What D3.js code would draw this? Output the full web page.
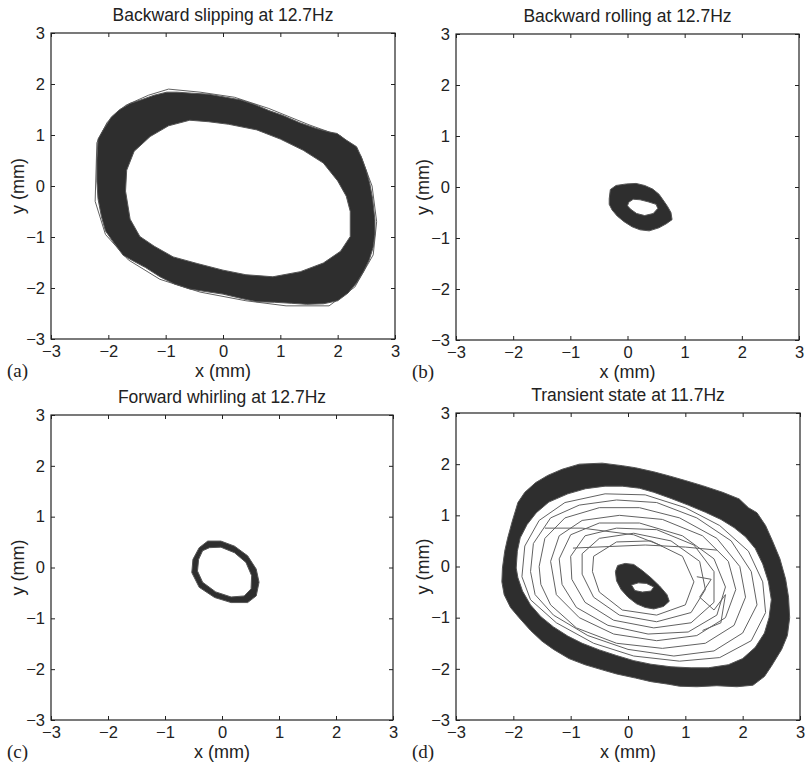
<!DOCTYPE html>
<html><head><meta charset="utf-8">
<script src="https://cdn.jsdelivr.net/npm/d3@7"></script>
<style>body{margin:0;background:#fff}svg{display:block}</style>
</head><body>
<script>
// ---------- data ----------
const titles = ["Backward slipping at 12.7Hz","Backward rolling at 12.7Hz","Forward whirling at 12.7Hz","Transient state at 11.7Hz"];
const letters = ["(a)","(b)","(c)","(d)"];
const tickValues = [-3,-2,-1,0,1,2,3];
const xLabel = "x (mm)";
const yLabel = "y (mm)";

// (a) backward slipping: outer and inner edge of orbit band
const aOuter = [[-2.18,0.92],[-2.09,1.10],[-1.95,1.35],[-1.80,1.50],[-1.62,1.62],[-1.40,1.70],[-1.20,1.78],[-0.98,1.84],[-0.80,1.84],[-0.55,1.82],[-0.25,1.80],[0.05,1.74],[0.30,1.69],[0.55,1.60],[0.80,1.48],[1.05,1.38],[1.34,1.24],[1.62,1.13],[1.85,1.06],[1.99,1.03],[2.15,0.90],[2.33,0.77],[2.42,0.55],[2.50,0.30],[2.56,0.05],[2.61,-0.25],[2.65,-0.67],[2.65,-0.95],[2.62,-1.20],[2.55,-1.45],[2.45,-1.68],[2.33,-1.90],[2.18,-2.10],[2.00,-2.25],[1.75,-2.31],[1.46,-2.32],[1.20,-2.30],[0.90,-2.28],[0.59,-2.27],[0.30,-2.20],[0.00,-2.12],[-0.30,-2.07],[-0.58,-2.02],[-0.85,-1.92],[-1.10,-1.78],[-1.35,-1.60],[-1.55,-1.48],[-1.74,-1.36],[-1.90,-1.12],[-2.05,-0.88],[-2.12,-0.60],[-2.18,-0.25],[-2.20,0.10],[-2.20,0.50]];
const aInner = [[-1.70,-0.10],[-1.68,0.31],[-1.55,0.68],[-1.27,0.97],[-0.95,1.18],[-0.58,1.29],[-0.25,1.26],[0.10,1.21],[0.59,1.10],[1.00,0.92],[1.40,0.70],[1.75,0.45],[2.00,0.10],[2.15,-0.20],[2.22,-0.50],[2.22,-0.99],[2.05,-1.28],[1.75,-1.51],[1.35,-1.68],[0.87,-1.78],[0.40,-1.74],[0.00,-1.65],[-0.45,-1.52],[-0.87,-1.39],[-1.20,-1.18],[-1.45,-0.99],[-1.62,-0.65]];
const aEdges = [
  [[-2.20,0.85],[-2.02,1.25],[-1.70,1.58],[-1.30,1.78],[-0.95,1.90],[-0.40,1.84],[0.20,1.74],[0.80,1.52],[1.50,1.20],[2.05,0.98],[2.40,0.60],[2.60,0.00],[2.68,-0.70],[2.62,-1.35],[2.30,-1.98],[1.85,-2.35],[1.10,-2.35],[0.40,-2.25],[-0.40,-2.08],[-1.10,-1.83],[-1.65,-1.45],[-2.05,-0.95],[-2.23,-0.30],[-2.20,0.85]]
];

// (b) backward rolling
const bOuter = [[-0.32,-0.23],[-0.30,-0.05],[-0.20,0.03],[-0.02,0.06],[0.15,0.07],[0.30,0.03],[0.44,-0.04],[0.55,-0.14],[0.62,-0.25],[0.70,-0.38],[0.76,-0.50],[0.78,-0.64],[0.68,-0.72],[0.55,-0.80],[0.38,-0.86],[0.22,-0.84],[0.08,-0.78],[-0.06,-0.68],[-0.18,-0.57],[-0.27,-0.45],[-0.32,-0.34]];
const bInner = [[0.02,-0.30],[0.10,-0.24],[0.22,-0.25],[0.36,-0.29],[0.50,-0.34],[0.53,-0.42],[0.45,-0.52],[0.30,-0.56],[0.16,-0.52],[0.06,-0.44],[0.00,-0.37]];

// (c) forward whirling
const cOuter = [[-0.25,0.52],[-0.02,0.52],[0.22,0.42],[0.45,0.23],[0.60,-0.03],[0.65,-0.29],[0.60,-0.56],[0.45,-0.69],[0.16,-0.69],[-0.13,-0.59],[-0.40,-0.39],[-0.53,-0.10],[-0.51,0.16],[-0.40,0.39]];
const cInner = [[-0.22,0.39],[-0.02,0.40],[0.22,0.29],[0.42,0.10],[0.52,-0.16],[0.51,-0.42],[0.39,-0.56],[0.16,-0.58],[-0.11,-0.48],[-0.34,-0.29],[-0.43,-0.07],[-0.41,0.16],[-0.34,0.33]];

// (d) transient state
const dOuter = [[-2.19,-0.03],[-2.15,0.30],[-2.10,0.55],[-2.02,0.88],[-1.92,1.25],[-1.80,1.45],[-1.61,1.64],[-1.40,1.78],[-1.15,1.90],[-0.85,2.00],[-0.45,2.02],[-0.10,1.97],[0.13,1.93],[0.45,1.85],[0.72,1.77],[1.00,1.68],[1.30,1.58],[1.65,1.45],[1.94,1.32],[2.10,1.15],[2.25,1.05],[2.40,0.80],[2.52,0.50],[2.65,0.15],[2.75,-0.25],[2.80,-0.60],[2.82,-1.00],[2.78,-1.35],[2.68,-1.62],[2.50,-1.95],[2.38,-2.15],[2.18,-2.32],[1.90,-2.35],[1.55,-2.33],[1.20,-2.35],[0.90,-2.34],[0.70,-2.30],[0.40,-2.25],[0.13,-2.18],[-0.20,-2.10],[-0.45,-2.02],[-0.75,-1.92],[-1.03,-1.80],[-1.30,-1.62],[-1.50,-1.46],[-1.70,-1.25],[-1.90,-1.00],[-2.05,-0.80],[-2.16,-0.55],[-2.20,-0.30]];
const dInner = [[-1.95,-0.03],[-1.93,0.30],[-1.88,0.56],[-1.76,0.82],[-1.60,1.05],[-1.38,1.26],[-1.05,1.42],[-0.74,1.52],[-0.40,1.57],[-0.10,1.57],[0.20,1.53],[0.45,1.45],[0.75,1.33],[1.05,1.20],[1.35,1.06],[1.62,0.92],[1.85,0.76],[2.05,0.58],[2.22,0.35],[2.35,0.05],[2.45,-0.30],[2.50,-0.65],[2.46,-1.00],[2.38,-1.30],[2.22,-1.58],[2.00,-1.80],[1.75,-1.92],[1.40,-1.98],[1.10,-1.98],[0.75,-1.96],[0.40,-1.91],[0.10,-1.84],[-0.20,-1.74],[-0.50,-1.63],[-0.80,-1.50],[-1.05,-1.36],[-1.30,-1.18],[-1.52,-0.98],[-1.70,-0.75],[-1.84,-0.48],[-1.92,-0.22]];
const dBlobOuter = [[-0.22,-0.10],[-0.18,0.02],[-0.05,0.06],[0.10,0.04],[0.25,-0.08],[0.40,-0.22],[0.55,-0.38],[0.68,-0.55],[0.72,-0.68],[0.62,-0.78],[0.45,-0.83],[0.30,-0.80],[0.15,-0.73],[0.00,-0.60],[-0.12,-0.45],[-0.20,-0.28]];
const dBlobInner = [[0.06,-0.36],[0.18,-0.32],[0.32,-0.33],[0.45,-0.40],[0.40,-0.48],[0.25,-0.50],[0.12,-0.47]];
const dLoops = [
  [[-2.0,0.1],[-1.9,0.75],[-1.5,1.25],[-0.9,1.6],[0.0,1.72],[0.9,1.55],[1.7,1.15],[2.3,0.5],[2.6,-0.3],[2.6,-1.1],[2.3,-1.75],[1.6,-2.05],[0.7,-2.05],[-0.2,-1.9],[-1.0,-1.6],[-1.6,-1.1],[-1.95,-0.5],[-2.0,0.1]],
  [[-1.85,-0.2],[-1.8,0.4],[-1.55,0.9],[-1.1,1.25],[-0.4,1.42],[0.3,1.4],[1.0,1.15],[1.6,0.8],[2.1,0.3],[2.35,-0.3],[2.4,-0.9],[2.15,-1.45],[1.6,-1.78],[0.9,-1.85],[0.1,-1.75],[-0.6,-1.5],[-1.25,-1.1],[-1.7,-0.65],[-1.85,-0.2]],
  [[-1.7,-0.1],[-1.65,0.45],[-1.35,0.95],[-0.85,1.2],[-0.2,1.3],[0.5,1.25],[1.2,0.95],[1.8,0.5],[2.15,-0.1],[2.25,-0.75],[2.0,-1.3],[1.5,-1.65],[0.8,-1.75],[0.0,-1.62],[-0.7,-1.35],[-1.3,-0.95],[-1.62,-0.55],[-1.7,-0.1]],
  [[-1.55,0.0],[-1.45,0.55],[-1.1,0.95],[-0.5,1.15],[0.2,1.15],[0.9,0.95],[1.55,0.55],[1.95,0.0],[2.05,-0.6],[1.85,-1.15],[1.35,-1.5],[0.6,-1.6],[-0.2,-1.5],[-0.9,-1.2],[-1.35,-0.75],[-1.52,-0.35],[-1.55,0.0]],
  [[-1.35,0.1],[-1.2,0.6],[-0.8,0.9],[-0.15,1.0],[0.6,0.92],[1.3,0.6],[1.75,0.1],[1.88,-0.45],[1.7,-1.0],[1.2,-1.35],[0.5,-1.45],[-0.25,-1.32],[-0.85,-1.0],[-1.25,-0.55],[-1.35,0.1]],
  [[-1.2,0.15],[-1.0,0.62],[-0.5,0.85],[0.2,0.85],[0.95,0.6],[1.5,0.15],[1.7,-0.4],[1.55,-0.95],[1.05,-1.28],[0.35,-1.32],[-0.35,-1.15],[-0.9,-0.8],[-1.15,-0.35],[-1.2,0.15]],
  [[-1.0,0.2],[-0.75,0.6],[-0.2,0.75],[0.5,0.72],[1.15,0.42],[1.5,-0.1],[1.5,-0.7],[1.1,-1.1],[0.45,-1.2],[-0.25,-1.05],[-0.75,-0.7],[-0.98,-0.25],[-1.0,0.2]],
  [[-0.8,0.25],[-0.5,0.55],[0.1,0.65],[0.75,0.5],[1.25,0.1],[1.35,-0.45],[1.1,-0.9],[0.5,-1.08],[-0.15,-0.95],[-0.6,-0.6],[-0.8,-0.15],[-0.8,0.25]],
  [[-0.6,0.2],[-0.2,0.48],[0.4,0.5],[0.95,0.2],[1.15,-0.3],[1.0,-0.75],[0.5,-0.95],[-0.1,-0.85],[-0.5,-0.5],[-0.62,-0.1],[-0.6,0.2]]
];
const dStrokes = [
  [[1.2,-0.2],[1.45,-0.25],[1.25,-0.6],[1.5,-0.85],[1.7,-0.55],[1.62,-1.1],[1.3,-1.25]],
  [[-0.96,0.36],[0.3,0.42],[1.0,0.38],[1.55,0.32]],
  [[-1.45,0.75],[-0.8,0.75],[0.1,0.62],[0.6,0.4]]
];

// ---------- layout ----------
const W = 806, H = 766;
const boxes = [
  {x0:51, x1:395, y0:33, y1:339},
  {x0:456, x1:799, y0:34, y1:340},
  {x0:51, x1:393, y0:415, y1:720},
  {x0:456, x1:800, y0:413, y1:720}
];
const bands = [
  [{outer:aOuter, inner:aInner}],
  [{outer:bOuter, inner:bInner}],
  [{outer:cOuter, inner:cInner}],
  [{outer:dOuter, inner:dInner},{outer:dBlobOuter, inner:dBlobInner}]
];
const loops = [aEdges,[],[],dLoops];
const strokes = [[],[],[],dStrokes];

const svg = d3.select("body").append("svg").attr("width",W).attr("height",H)
  .style("font-family","'Liberation Sans', Arial, Helvetica, sans-serif");

const fmt = d3.format("d");

boxes.forEach((b,i)=>{
  const x = d3.scaleLinear().domain([-3,3]).range([b.x0,b.x1]);
  const y = d3.scaleLinear().domain([-3,3]).range([b.y1,b.y0]);
  const g = svg.append("g");
  const closed = d3.line().x(d=>x(d[0])).y(d=>y(d[1])).curve(d3.curveLinearClosed);
  const open = d3.line().x(d=>x(d[0])).y(d=>y(d[1]));

  const cid = "clip"+i;
  svg.append("clipPath").attr("id",cid).append("rect")
    .attr("x",b.x0).attr("y",b.y0).attr("width",b.x1-b.x0).attr("height",b.y1-b.y0);
  const plot = g.append("g").attr("clip-path",`url(#${cid})`);

  loops[i].forEach(l=>{
    plot.append("path").attr("d",open(l)).attr("fill","none")
      .attr("stroke","#626262").attr("stroke-width",1);
  });
  strokes[i].forEach(l=>{
    plot.append("path").attr("d",open(l)).attr("fill","none")
      .attr("stroke","#626262").attr("stroke-width",1);
  });
  bands[i].forEach(bd=>{
    plot.append("path").attr("d",closed(bd.outer)+closed(bd.inner))
      .attr("fill","#2e2e2e").attr("fill-rule","evenodd")
      .attr("stroke","#555").attr("stroke-width",1).attr("stroke-linejoin","round");
  });

  const ax = (gen, tx, ty, labels)=>{
    const a = g.append("g").attr("transform",`translate(${tx},${ty})`)
      .call(gen.tickValues(tickValues).tickSizeInner(-4).tickSizeOuter(0).tickPadding(6)
        .tickFormat(labels ? fmt : ""));
    a.select(".domain").remove();
    a.selectAll(".tick line").attr("stroke","#222");
    a.selectAll("text").attr("fill","#222").style("font-size","16.5px").style("font-family","inherit");
    return a;
  };
  ax(d3.axisBottom(x), 0, b.y1, true);
  ax(d3.axisLeft(y), b.x0, 0, true);
  ax(d3.axisTop(x), 0, b.y0, false);
  ax(d3.axisRight(y), b.x1, 0, false);

  g.append("rect").attr("x",b.x0).attr("y",b.y0).attr("width",b.x1-b.x0).attr("height",b.y1-b.y0)
    .attr("fill","none").attr("stroke","#222").attr("stroke-width",1.2);

  const cx = (b.x0+b.x1)/2, cy = (b.y0+b.y1)/2;
  g.append("text").attr("x",cx).attr("y",b.y0-12).attr("text-anchor","middle")
    .style("font-size","17.5px").attr("fill","#222").text(titles[i]);
  g.append("text").attr("x",cx).attr("y",b.y1+38).attr("text-anchor","middle")
    .style("font-size","18px").attr("fill","#222").text(xLabel);
  g.append("text").attr("transform",`translate(${b.x0-27},${cy}) rotate(-90)`).attr("text-anchor","middle")
    .style("font-size","18px").attr("fill","#222").text(yLabel);
  g.append("text").attr("x",b.x0-44).attr("y",b.y1+38)
    .style("font-family","'Liberation Serif','DejaVu Serif',serif").style("font-size","19px")
    .attr("fill","#222").text(letters[i]);
});
</script>
</body></html>
